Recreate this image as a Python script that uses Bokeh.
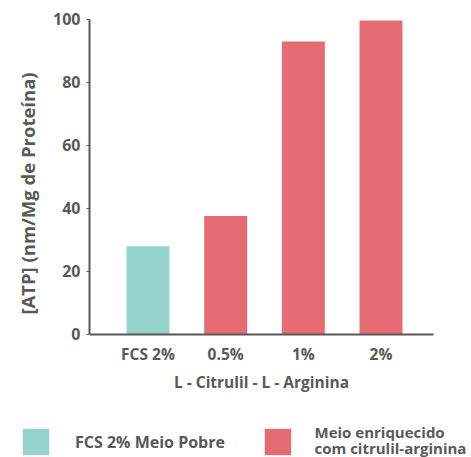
import math
from bokeh.plotting import figure
from bokeh.models import (ColumnDataSource, Range1d, FixedTicker, Label, Legend, LegendItem)
from bokeh.embed import file_html
from bokeh.resources import INLINE

categories = ["FCS 2%", "0.5%", "1%", "2%"]
values = [28.0, 37.6, 93.0, 99.7]
groups = [0, 1, 1, 1]
group_labels = ["FCS 2% Meio Pobre", "Meio enriquecido\ncom citrulil-arginina"]
group_colors = ["#94D3CB", "#E56C72"]
y_ticks = [0, 20, 40, 60, 80, 100]
x_title = "L - Citrulil - L - Arginina"
y_title = "[ATP] (nm/Mg de Proteína)"

FONT = "Open Sans"
TXT = "#595959"

# axis extents (data units)
X_LO, X_HI = -0.753, len(categories) - 1 + 0.676
Y_LO, Y_HI = 0, 100

xs = list(range(len(categories)))
src = ColumnDataSource(dict(x=xs, top=values, color=[group_colors[g] for g in groups]))

p = figure(width=471, height=457, output_backend="svg", toolbar_location=None,
           x_range=Range1d(-1.899, 4.165), y_range=Range1d(-39.05, 106.03),
           min_border=0)
p.outline_line_color = None
p.xgrid.grid_line_color = None
p.ygrid.grid_line_color = None
p.background_fill_color = "white"
p.border_fill_color = "white"

r = p.vbar(x="x", top="top", bottom=0, width=0.553, fill_color="color", line_color=None, source=src)

for ax in (p.xaxis[0], p.yaxis[0]):
    ax.axis_line_color = TXT
    ax.axis_line_width = 2
    ax.major_label_text_font = FONT
    ax.major_label_text_font_style = "bold"
    ax.major_label_text_color = TXT
    ax.minor_tick_line_color = None

p.yaxis.fixed_location = X_LO
p.yaxis.bounds = (Y_LO, Y_HI)
p.yaxis.ticker = FixedTicker(ticks=y_ticks)
p.yaxis.major_tick_line_color = TXT
p.yaxis.major_tick_line_width = 1
p.yaxis.major_tick_in = 0
p.yaxis.major_tick_out = 3
p.yaxis.major_label_standoff = 6
p.yaxis.major_label_text_font_size = "16px"

p.xaxis.fixed_location = Y_LO
p.xaxis.bounds = (X_LO, X_HI)
p.xaxis.ticker = FixedTicker(ticks=xs)
p.xaxis.major_label_overrides = {i: c for i, c in enumerate(categories)}
p.xaxis.major_tick_line_color = None
p.xaxis.major_label_standoff = 3
p.xaxis.major_label_text_font_size = "15.5px"
p.xaxis.axis_label = x_title
p.xaxis.axis_label_text_font = FONT
p.xaxis.axis_label_text_font_style = "bold"
p.xaxis.axis_label_text_font_size = "15.5px"
p.xaxis.axis_label_text_color = TXT
p.xaxis.axis_label_standoff = 2

p.add_layout(Label(x=27, y=264, x_units="screen", y_units="screen", text=y_title,
                   angle=math.pi / 2, text_align="center", text_baseline="middle",
                   text_font=FONT, text_font_style="bold", text_font_size="18.5px",
                   text_color=TXT))

# legend: glyph squares via Legend, the two-line caption of the second entry as labels
leg_x = [19, 261]
leg_text = [group_labels[0], " "]
for gi in range(len(group_labels)):
    leg = Legend(items=[LegendItem(label=leg_text[gi], renderers=[r], index=groups.index(gi))],
                 location=(leg_x[gi], -1), padding=0, margin=0, border_line_color=None,
                 background_fill_alpha=0, glyph_width=33, glyph_height=33,
                 label_standoff=23, label_text_font=FONT,
                 label_text_font_style="bold", label_text_font_size="16px",
                 label_text_color=TXT)
    p.add_layout(leg, "center")

for line, ly in zip(group_labels[1].split("\n"), [26, 10]):
    p.add_layout(Label(x=314, y=ly, x_units="screen", y_units="screen", text=line,
                       text_align="left", text_baseline="middle",
                       text_font=FONT, text_font_style="bold", text_font_size="15px",
                       text_color=TXT))

open("out.html", "w").write(file_html(p, INLINE))
